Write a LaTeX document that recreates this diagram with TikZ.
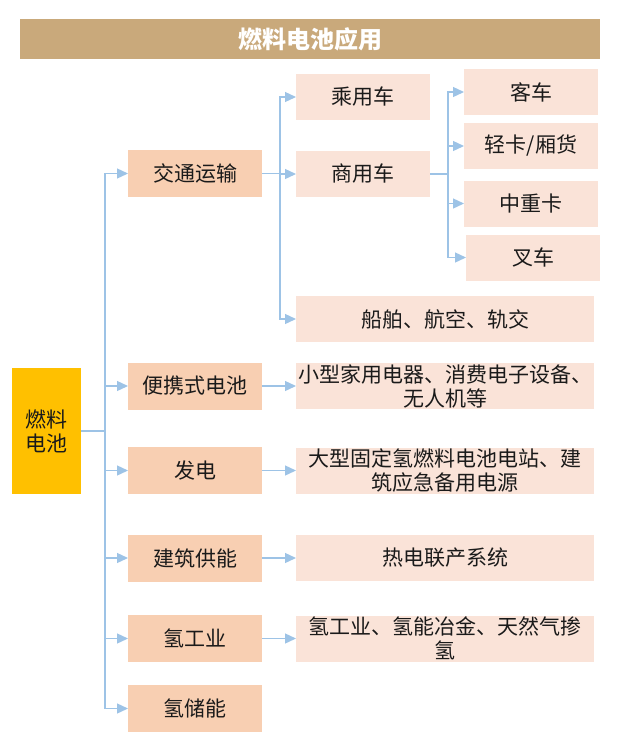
\documentclass[tikz,border=0pt]{standalone}
\usepackage{fontspec}
\setmainfont{Noto Sans CJK SC}
\usetikzlibrary{arrows.meta}
\definecolor{titlebg}{HTML}{C9A97B}
\definecolor{rootbg}{HTML}{FFC000}
\definecolor{lvtwo}{HTML}{F8CFB2}
\definecolor{lvthree}{HTML}{FAE3D8}
\definecolor{conncol}{HTML}{9DC3E6}
\definecolor{txt}{HTML}{1A1A1A}
\tikzset{
  box/.style={inner sep=0pt, outer sep=0pt, text=txt, font=\fontsize{21}{24}\selectfont, align=center},
  second/.style={box, fill=lvtwo, minimum width=134pt, minimum height=47pt},
  third/.style={box, fill=lvthree, minimum width=134pt, minimum height=46pt},
  wide/.style={box, fill=lvthree, minimum width=298pt, minimum height=46pt},
  conn/.style={draw=conncol, line width=1.3pt, -{Triangle[length=11pt,width=10pt]}},
  link/.style={draw=conncol, line width=1.3pt}
}
\begin{document}
\begin{tikzpicture}[x=1pt,y=-1pt]
\useasboundingbox (0,0) rectangle (624,750);
% title
\node[fill=titlebg, minimum width=580pt, minimum height=40pt, inner sep=0pt, text=white, font=\fontsize{24}{28}\selectfont\bfseries] (title) at (310,39) {燃料电池应用};
% root
\node[box, fill=rootbg, minimum width=69pt, minimum height=126pt] (root) at (46.5,431) {燃料\\电池};
% second level
\node[second] (jt) at (195,173.5) {交通运输};
\node[second] (bx) at (195,386) {便携式电池};
\node[second] (fd) at (195,470.5) {发电};
\node[second] (jz) at (195,558) {建筑供能};
\node[second] (qg) at (195,638.5) {氢工业};
\node[second] (qc) at (195,708.5) {氢储能};
% third level
\node[third] (cy) at (363,97) {乘用车};
\node[third] (sy) at (363,174) {商用车};
\node[wide] (cb) at (445,319) {船舶、航空、轨交};
\node[wide] (xx) at (445,386) {小型家用电器、消费电子设备、\\无人机等};
\node[wide] (dx) at (445,470.5) {大型固定氢燃料电池电站、建\\筑应急备用电源};
\node[wide] (rd) at (445,558) {热电联产系统};
\node[wide] (qy) at (445,638.5) {氢工业、氢能冶金、天然气掺\\氢};
% fourth level
\node[third] (kc) at (531,92) {客车};
\node[third] (qk) at (531,146) {轻卡/厢货};
\node[third] (zz) at (531,203.5) {中重卡};
\node[third] (cc) at (533,257.5) {叉车};
% connectors from root
\coordinate (t1) at (105,431);
\draw[link] (root.east) -- (t1);
\foreach \n in {jt,bx,fd,jz,qg,qc}{
  \draw[conn] (t1) |- (\n.west);
}
% connectors from 交通运输
\coordinate (t2) at (280,173.5);
\draw[link] (jt.east) -- (t2);
\foreach \n in {cy,sy,cb}{
  \draw[conn] (t2) |- (\n.west);
}
% connectors from 商用车
\coordinate (t3) at (448,174);
\draw[link] (sy.east) -- (t3);
\foreach \n in {kc,qk,zz,cc}{
  \draw[conn] (t3) |- (\n.west);
}
% single arrows
\draw[conn] (bx.east) -- (xx.west);
\draw[conn] (fd.east) -- (dx.west);
\draw[conn] (jz.east) -- (rd.west);
\draw[conn] (qg.east) -- (qy.west);
\end{tikzpicture}
\end{document}
